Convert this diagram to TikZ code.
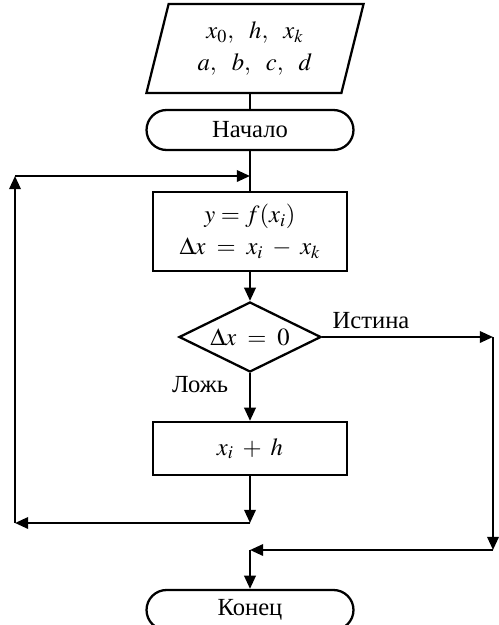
\documentclass[tikz,border=0pt]{standalone}
\usepackage{mathptmx}
\usepackage{fontspec}
\setmainfont{Liberation Serif}
\usetikzlibrary{arrows.meta,shapes.geometric}

\begin{document}
\begin{tikzpicture}[x=0.02cm,y=-0.02cm,line width=1.3pt,
  >={Triangle[length=7.5pt,width=6.5pt]},
  every node/.style={font=\fontsize{14}{18}\selectfont},
  block/.style={draw,rectangle,minimum width=3.88cm,align=center},
  term/.style={draw,rectangle,rounded corners=0.4cm,minimum width=4.14cm,minimum height=0.8cm},
  cond/.style={draw,diamond,aspect=2.5,minimum width=2.84cm,minimum height=1.4cm,inner sep=0pt},
  io/.style={draw,trapezium,trapezium left angle=76,trapezium right angle=104,
    minimum width=4.12cm,minimum height=1.78cm,align=center}]

\useasboundingbox (0,0) rectangle (498,625);

% ---------------------------
% блоки
% ---------------------------
\node[io]                        (data) at (255,48.5) {$x_0,\ \ h,\ \ x_k$\\$a,\ \ b,\ \ c,\ \ d$};
\node[term]                      (start) at (250,130) {Начало};
\node[block,minimum height=1.58cm] (calc) at (250,231.5) {$y=f(x_i)$\\$\Delta x\;=\;x_i\;-\;x_k$};
\node[cond]                      (test) at (250,337) {$\Delta x\;=\;0$};
\node[block,minimum height=1.06cm] (inc) at (250,448.5) {$x_i\;+\;h$};
\node[term]                      (stop) at (250,610) {Конец};

\node (yes) at (371,321) {Истина};
\node (no)  at (200,385) {Ложь};

% ---------------------------
% точки излома
% ---------------------------
\coordinate (join)  at (250,176);
\coordinate (back)  at (250,523);
\coordinate (LB)    at (15,523);
\coordinate (LT)    at (15,176);
\coordinate (RT)    at (493,337);
\coordinate (RB)    at (493,550);
\coordinate (merge) at (250,550);

% ---------------------------
% линии
% ---------------------------
\draw (start.north |- data.south) -- (start.north);
\draw (start.south) -- (calc.north);
\draw[->] (calc.south) -- (test.north);
\draw[->] (test.south) -- (inc.north);
\draw[->] (inc.south) -- (back);

% цикл (слева)
\draw[->] (back) -- (LB);
\draw[->] (LB) -- (LT);
\draw[->] (LT) -- (join);

% выход (справа)
\draw[->] (test.east) -- (RT);
\draw[->] (RT) -- (RB);
\draw[->] (RB) -- (merge);
\draw[->] (merge) -- (stop.north);

\end{tikzpicture}
\end{document}
